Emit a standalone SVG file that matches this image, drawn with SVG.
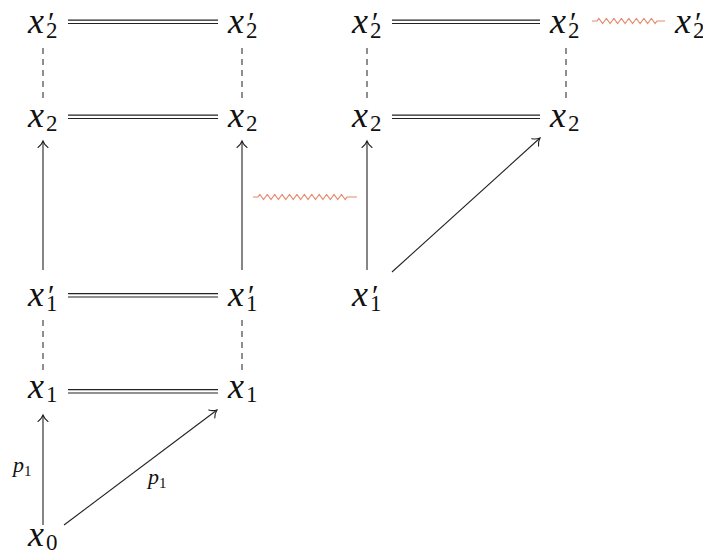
<svg xmlns="http://www.w3.org/2000/svg" width="703" height="556" viewBox="0 0 703 556">
<style>
.v{font-family:'Liberation Serif','Times New Roman','DejaVu Serif',serif;font-style:italic;font-size:36px;fill:#111}
.s{font-family:'Liberation Serif','Times New Roman','DejaVu Serif',serif;font-size:23px;fill:#111}
.pr{font-family:'Liberation Serif','Times New Roman','DejaVu Serif',serif;font-size:30px;fill:#111}
.lbl{font-family:'Liberation Serif','Times New Roman','DejaVu Serif',serif;font-style:italic;font-size:22px;fill:#111}
.ls{font-family:'Liberation Serif','Times New Roman','DejaVu Serif',serif;font-style:normal;font-size:15px;fill:#111}
.ar{fill:none;stroke:#222;stroke-width:1.1;marker-end:url(#to)}
.dash{fill:none;stroke:#333;stroke-width:1.1;stroke-dasharray:6 5}
.dbo{stroke:#222;stroke-width:4.6}
.dbi{stroke:#fff;stroke-width:2.2}
.sq{fill:none;stroke:#e58a6e;stroke-width:1.2}
</style>
<defs>
<marker id="to" viewBox="-9 -7 11 14" refX="0" refY="0" markerWidth="11" markerHeight="14" orient="auto" markerUnits="userSpaceOnUse">
<path d="M-6.5,-5 C-5,-2.6 -1.8,-0.7 0,0 C-1.8,0.7 -5,2.6 -6.5,5" fill="none" stroke="#222" stroke-width="1.1" stroke-linecap="round"/>
</marker>
</defs>
<g id="connectors">
<line class="dbo" x1="68" y1="21.8" x2="218" y2="21.8"/><line class="dbi" x1="68" y1="21.8" x2="218" y2="21.8"/>
<line class="dbo" x1="68" y1="116.8" x2="218" y2="116.8"/><line class="dbi" x1="68" y1="116.8" x2="218" y2="116.8"/>
<line class="dbo" x1="392" y1="21.8" x2="540" y2="21.8"/><line class="dbi" x1="392" y1="21.8" x2="540" y2="21.8"/>
<line class="dbo" x1="392" y1="116.8" x2="540" y2="116.8"/><line class="dbi" x1="392" y1="116.8" x2="540" y2="116.8"/>
<line class="dbo" x1="68" y1="295.3" x2="218" y2="295.3"/><line class="dbi" x1="68" y1="295.3" x2="218" y2="295.3"/>
<line class="dbo" x1="68" y1="391.3" x2="218" y2="391.3"/><line class="dbi" x1="68" y1="391.3" x2="218" y2="391.3"/>
<line class="dash" x1="43" y1="48" x2="43" y2="100"/>
<line class="dash" x1="242" y1="48" x2="242" y2="100"/>
<line class="dash" x1="367" y1="48" x2="367" y2="100"/>
<line class="dash" x1="566" y1="48" x2="566" y2="100"/>
<line class="dash" x1="43" y1="320" x2="43" y2="375"/>
<line class="dash" x1="242" y1="320" x2="242" y2="375"/>
<line class="ar" x1="43" y1="270" x2="43" y2="141"/>
<line class="ar" x1="242" y1="270" x2="242" y2="141"/>
<line class="ar" x1="367" y1="270" x2="367" y2="141"/>
<line class="ar" x1="392" y1="272" x2="540" y2="138"/>
<line class="ar" x1="43" y1="525" x2="43" y2="415"/>
<line class="ar" x1="64" y1="525" x2="217" y2="410"/>
<path class="sq" d="M253,197 H258 l1.855-2.5 l3.71 5 l1.855-2.5 l1.855-2.5 l3.71 5 l1.855-2.5 l1.855-2.5 l3.71 5 l1.855-2.5 l1.855-2.5 l3.71 5 l1.855-2.5 l1.855-2.5 l3.71 5 l1.855-2.5 l1.855-2.5 l3.71 5 l1.855-2.5 l1.855-2.5 l3.71 5 l1.855-2.5 l1.855-2.5 l3.71 5 l1.855-2.5 l1.855-2.5 l3.71 5 l1.855-2.5 l1.855-2.5 l3.71 5 l1.855-2.5 l1.855-2.5 l3.71 5 l1.855-2.5 l1.855-2.5 l3.71 5 l1.855-2.5 H357"/>
<path class="sq" d="M592,21 H597 l1.875-2.5 l3.75 5 l1.875-2.5 l1.875-2.5 l3.75 5 l1.875-2.5 l1.875-2.5 l3.75 5 l1.875-2.5 l1.875-2.5 l3.75 5 l1.875-2.5 l1.875-2.5 l3.75 5 l1.875-2.5 l1.875-2.5 l3.75 5 l1.875-2.5 l1.875-2.5 l3.75 5 l1.875-2.5 l1.875-2.5 l3.75 5 l1.875-2.5 H665"/>
<text x="13" y="472" class="lbl">p<tspan class="ls" y="476">1</tspan></text>
<text x="148" y="484" class="lbl">p<tspan class="ls" y="488">1</tspan></text>
</g>
<g id="n-x2p-a"><text x="28" y="33" class="v">x</text><text x="48" y="32" class="pr">′</text><text x="46" y="38" class="s">2</text></g>
<g id="n-x2p-b"><text x="228" y="33" class="v">x</text><text x="248" y="32" class="pr">′</text><text x="246" y="38" class="s">2</text></g>
<g id="n-x2p-c"><text x="352" y="33" class="v">x</text><text x="372" y="32" class="pr">′</text><text x="370" y="38" class="s">2</text></g>
<g id="n-x2p-d"><text x="550" y="33" class="v">x</text><text x="570" y="32" class="pr">′</text><text x="568" y="38" class="s">2</text></g>
<g id="n-x2p-e"><text x="675" y="33" class="v">x</text><text x="695" y="32" class="pr">′</text><text x="693" y="38" class="s">2</text></g>
<g id="n-x2-a"><text x="28" y="127" class="v">x</text><text x="46" y="131" class="s">2</text></g>
<g id="n-x2-b"><text x="228" y="127" class="v">x</text><text x="246" y="131" class="s">2</text></g>
<g id="n-x2-c"><text x="352" y="127" class="v">x</text><text x="370" y="131" class="s">2</text></g>
<g id="n-x2-d"><text x="550" y="127" class="v">x</text><text x="568" y="131" class="s">2</text></g>
<g id="n-x1p-a"><text x="28" y="306" class="v">x</text><text x="48" y="305" class="pr">′</text><text x="46" y="311" class="s">1</text></g>
<g id="n-x1p-b"><text x="228" y="306" class="v">x</text><text x="248" y="305" class="pr">′</text><text x="246" y="311" class="s">1</text></g>
<g id="n-x1p-c"><text x="352" y="306" class="v">x</text><text x="372" y="305" class="pr">′</text><text x="370" y="311" class="s">1</text></g>
<g id="n-x1-a"><text x="28" y="398" class="v">x</text><text x="46" y="402" class="s">1</text></g>
<g id="n-x1-b"><text x="228" y="398" class="v">x</text><text x="246" y="402" class="s">1</text></g>
<g id="n-x0"><text x="28" y="546" class="v">x</text><text x="46" y="550" class="s">0</text></g>
</svg>
